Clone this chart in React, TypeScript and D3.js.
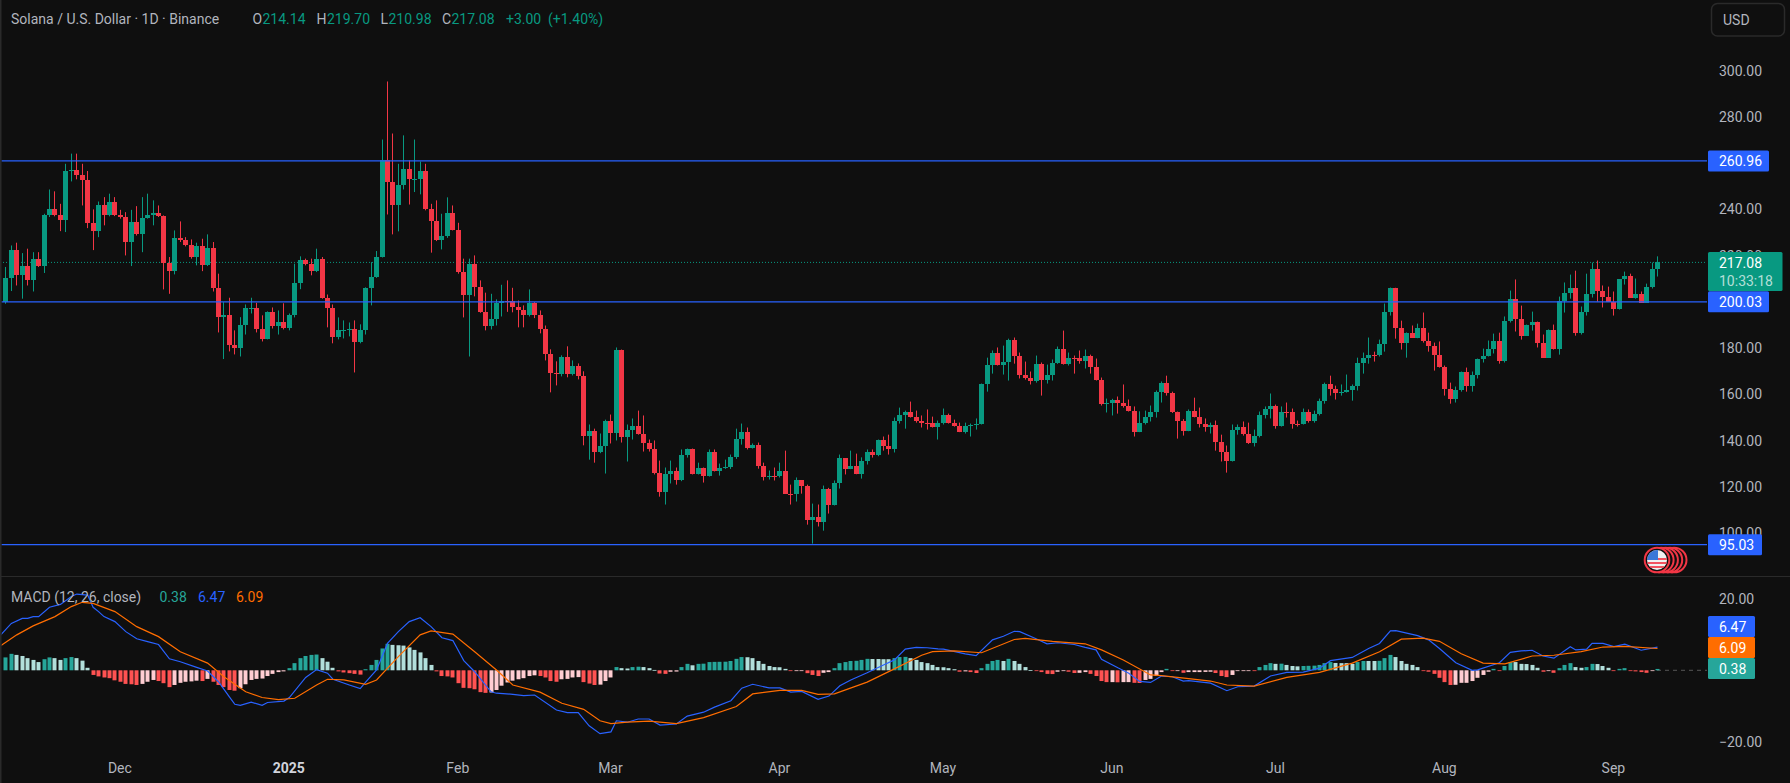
import React from 'react';
import * as d3 from 'd3';

// SOL/USD daily, Nov 10 2024 to Sep 9 2025
const firstOpen = 199.9;
const closes = [
  210.3, 222.3, 211.5, 215.5, 209.3, 218.4, 215.5, 237.4, 240.0, 237.4,
  235.2, 256.8, 256.9, 254.7, 252.5, 233.9, 230.5, 242.1, 237.4, 243.4,
  237.4, 236.5, 225.9, 234.4, 229.2, 236.1, 237.4, 238.3, 237.0, 216.9,
  213.2, 227.5, 226.6, 224.4, 219.2, 224.0, 215.8, 223.1, 205.8, 193.3,
  194.5, 181.2, 179.9, 189.8, 197.2, 197.3, 188.1, 183.8, 195.5, 189.4,
  191.1, 188.5, 194.2, 208.0, 217.9, 216.2, 213.2, 218.4, 201.9, 197.2,
  184.7, 187.7, 188.0, 188.4, 182.5, 187.7, 205.8, 210.9, 219.5, 261.5,
  251.7, 241.7, 250.4, 257.3, 253.0, 253.2, 256.4, 240.0, 234.8, 226.6,
  228.3, 238.3, 231.3, 212.8, 202.8, 216.6, 206.3, 195.7, 189.4, 192.4,
  199.4, 200.6, 200.2, 197.6, 196.3, 194.2, 199.4, 194.2, 188.1, 177.3,
  169.1, 169.0, 176.0, 168.7, 172.1, 167.8, 141.9, 144.4, 134.9, 137.9,
  148.3, 143.5, 179.0, 141.8, 144.8, 146.5, 143.1, 139.2, 136.6, 126.2,
  118.0, 125.4, 126.7, 123.2, 133.6, 136.2, 125.8, 128.4, 124.9, 135.3,
  127.1, 128.4, 128.5, 133.1, 140.9, 143.9, 137.0, 138.3, 129.2, 124.1,
  124.8, 124.6, 126.7, 117.1, 117.0, 122.8, 120.2, 105.5, 107.2, 105.0,
  118.9, 112.4, 121.5, 132.3, 127.9, 129.2, 125.8, 131.4, 134.9, 133.6,
  140.1, 137.5, 136.2, 148.7, 151.3, 152.6, 150.4, 148.7, 147.8, 147.7,
  146.1, 147.8, 150.9, 147.8, 146.5, 143.9, 146.5, 146.8, 147.3, 164.3,
  172.9, 178.1, 172.9, 174.2, 183.7, 176.4, 168.6, 166.9, 165.6, 173.3,
  166.4, 168.6, 173.8, 179.8, 173.3, 175.9, 175.8, 174.6, 176.8, 172.0,
  166.4, 156.0, 156.3, 157.8, 156.5, 154.8, 153.0, 143.9, 147.7, 150.4,
  152.6, 161.2, 165.1, 160.8, 152.2, 148.3, 144.4, 153.0, 150.4, 147.4,
  146.1, 146.7, 139.6, 134.9, 131.4, 144.8, 146.1, 143.1, 138.8, 142.2,
  150.9, 153.5, 154.8, 146.5, 152.6, 152.4, 147.4, 147.2, 152.2, 148.7,
  151.7, 157.3, 164.3, 162.5, 160.4, 161.2, 162.1, 163.8, 173.8, 175.9,
  177.2, 176.9, 181.6, 195.8, 205.8, 188.9, 182.4, 186.7, 184.6, 188.9,
  182.9, 181.1, 177.2, 172.0, 162.5, 158.2, 162.1, 169.5, 163.8, 168.2,
  175.5, 176.8, 179.8, 182.9, 174.6, 191.9, 201.4, 192.4, 185.4, 189.8,
  191.1, 182.4, 175.9, 188.0, 179.8, 200.6, 204.0, 206.2, 186.7, 195.8,
  203.2, 214.4, 204.9, 202.3, 200.1, 197.1, 209.7, 211.0, 201.9, 203.6,
  199.7, 206.6, 214.14, 217.08,
];
const highs = [
  215.1, 224.4, 225.6, 221.1, 223.0, 221.5, 221.5, 238.1, 248.6, 247.8,
  242.4, 259.7, 264.1, 264.1, 259.7, 256.6, 240.0, 243.4, 245.3, 246.8,
  245.3, 239.8, 238.8, 239.8, 241.4, 245.3, 246.8, 243.9, 241.7, 237.4,
  219.4, 230.9, 234.8, 228.0, 227.0, 225.6, 227.3, 229.2, 225.9, 212.2,
  199.9, 201.8, 187.7, 193.4, 198.9, 201.8, 199.6, 194.2, 195.9, 197.6,
  196.3, 199.4, 195.0, 216.5, 219.7, 218.7, 218.7, 223.0, 219.4, 203.2,
  198.9, 193.3, 192.0, 191.1, 192.0, 190.3, 206.3, 217.2, 222.0, 270.2,
  295.3, 272.8, 259.7, 272.0, 261.2, 270.2, 260.7, 259.7, 242.4, 243.9,
  238.1, 245.2, 241.7, 234.2, 218.7, 218.7, 220.1, 209.3, 204.0, 203.5,
  201.1, 207.4, 209.3, 206.1, 200.6, 198.5, 205.4, 199.9, 196.3, 189.8,
  179.5, 174.3, 176.9, 180.8, 174.7, 173.4, 170.0, 147.0, 145.2, 143.1,
  149.1, 151.3, 180.3, 179.4, 147.0, 149.6, 153.0, 150.9, 140.5, 140.1,
  131.4, 128.4, 131.4, 128.4, 136.2, 136.6, 136.6, 130.5, 128.4, 136.2,
  136.2, 130.1, 131.8, 134.0, 145.2, 147.4, 145.7, 138.8, 139.2, 130.5,
  127.1, 128.4, 130.5, 135.7, 121.0, 124.1, 122.8, 121.0, 112.8, 112.4,
  120.6, 119.6, 122.8, 134.0, 132.3, 135.7, 134.4, 132.8, 136.2, 136.2,
  140.5, 141.8, 142.6, 150.0, 154.3, 153.0, 156.9, 153.0, 150.9, 153.5,
  150.4, 148.7, 153.9, 151.7, 149.1, 147.8, 147.8, 147.4, 149.6, 164.7,
  175.9, 179.0, 180.3, 181.1, 184.1, 184.6, 178.1, 174.2, 169.9, 176.8,
  173.8, 172.9, 175.1, 180.7, 187.6, 178.1, 176.8, 179.0, 179.4, 177.2,
  175.5, 167.3, 158.2, 158.1, 159.1, 164.3, 157.8, 154.8, 152.7, 153.0,
  155.2, 161.7, 165.6, 168.1, 161.2, 152.6, 149.3, 153.5, 158.6, 154.3,
  149.6, 147.8, 148.7, 142.6, 137.9, 147.0, 147.0, 148.3, 147.8, 144.8,
  152.6, 154.8, 160.4, 155.6, 154.8, 156.5, 153.9, 148.7, 153.9, 153.5,
  153.0, 158.2, 165.1, 168.1, 163.8, 164.3, 168.6, 164.3, 175.9, 178.1,
  184.6, 178.5, 183.7, 199.3, 206.2, 206.1, 191.9, 186.8, 189.8, 190.6,
  195.4, 186.7, 182.4, 182.9, 172.5, 165.1, 163.4, 169.9, 171.6, 169.9,
  175.5, 179.8, 183.3, 186.3, 186.7, 193.7, 204.9, 209.7, 198.4, 190.2,
  195.8, 191.5, 185.9, 188.1, 190.2, 202.3, 208.4, 211.8, 213.5, 198.0,
  212.2, 217.0, 217.9, 207.1, 206.6, 204.5, 209.8, 213.1, 212.2, 210.1,
  204.5, 207.9, 217.0, 219.7,
];
const lows = [
  199.2, 204.7, 207.1, 201.4, 207.1, 204.5, 215.1, 212.5, 236.7, 237.0,
  230.6, 230.2, 252.1, 253.0, 241.7, 231.9, 222.4, 228.0, 233.1, 237.0,
  237.1, 236.0, 220.1, 215.5, 228.7, 221.5, 236.0, 233.1, 236.7, 205.4,
  203.5, 211.9, 225.9, 224.0, 218.7, 215.8, 213.3, 215.5, 204.5, 186.8,
  175.3, 178.6, 177.3, 176.4, 185.9, 195.0, 186.8, 182.9, 183.8, 188.5,
  185.9, 188.1, 187.7, 193.3, 205.5, 215.8, 211.5, 212.9, 201.4, 189.0,
  182.1, 183.8, 184.2, 185.1, 169.5, 182.1, 185.9, 198.5, 210.4, 219.2,
  237.8, 229.2, 230.5, 248.6, 242.1, 247.5, 246.5, 239.6, 221.3, 226.3,
  222.7, 227.7, 230.9, 212.2, 193.3, 176.4, 202.4, 195.3, 187.7, 188.1,
  189.8, 193.7, 195.7, 195.5, 189.0, 189.0, 193.7, 193.0, 186.4, 174.7,
  160.9, 163.9, 167.8, 167.4, 168.2, 166.5, 138.0, 131.8, 130.5, 134.6,
  125.8, 138.8, 140.1, 139.2, 131.0, 140.5, 142.6, 135.3, 135.3, 125.4,
  115.8, 112.4, 121.5, 121.0, 122.5, 132.7, 125.4, 125.4, 121.9, 124.5,
  126.7, 124.9, 127.8, 127.8, 132.1, 138.3, 136.2, 136.6, 127.9, 122.8,
  123.2, 122.8, 124.1, 117.0, 112.4, 113.7, 117.1, 103.7, 95.5, 102.9,
  101.1, 108.5, 112.0, 119.3, 125.4, 127.7, 125.5, 123.6, 129.7, 132.7,
  133.3, 135.7, 134.0, 134.9, 147.4, 145.2, 150.0, 147.8, 145.7, 144.8,
  145.7, 140.5, 147.0, 147.4, 146.1, 143.7, 143.1, 141.8, 144.8, 147.0,
  161.2, 169.0, 172.5, 168.6, 166.0, 173.3, 166.9, 166.4, 164.3, 165.1,
  159.5, 164.7, 166.0, 173.2, 172.9, 172.5, 169.0, 173.3, 171.2, 169.0,
  166.0, 155.2, 152.2, 150.9, 151.7, 154.3, 152.6, 141.8, 143.7, 147.0,
  148.3, 150.0, 156.5, 159.5, 152.0, 140.9, 142.2, 144.1, 150.1, 145.7,
  143.9, 143.1, 135.7, 131.0, 126.2, 131.0, 142.6, 142.2, 138.6, 137.5,
  141.4, 149.6, 149.6, 145.2, 146.1, 150.0, 145.2, 146.1, 147.0, 147.8,
  147.8, 150.9, 156.0, 159.5, 157.8, 159.5, 160.8, 157.3, 161.7, 169.0,
  173.3, 174.2, 176.4, 178.5, 194.1, 184.1, 179.4, 175.9, 184.4, 184.3,
  182.4, 178.5, 170.3, 171.6, 159.5, 156.0, 156.5, 161.2, 161.2, 161.2,
  166.9, 173.8, 176.4, 177.7, 173.3, 173.8, 191.1, 187.2, 183.7, 185.4,
  187.6, 180.3, 175.8, 175.8, 179.4, 177.2, 195.4, 201.4, 185.4, 185.9,
  194.1, 201.9, 200.1, 197.6, 200.0, 194.1, 196.7, 207.5, 201.7, 201.4,
  199.6, 199.6, 205.8, 210.98,
];
const histogram = [
  3.6, 4.6, 4.3, 4.0, 3.4, 2.9, 2.3, 3.1, 3.6, 3.4,
  2.9, 3.4, 3.7, 3.4, 2.7, 0.7, -1.3, -1.7, -2.0, -2.2,
  -2.8, -3.2, -3.8, -3.9, -4.1, -3.8, -3.2, -2.7, -3.0, -3.6,
  -4.7, -4.1, -3.5, -3.2, -3.1, -2.9, -3.0, -2.4, -3.2, -4.1,
  -4.7, -5.5, -5.7, -5.0, -3.9, -2.7, -2.4, -2.3, -1.6, -1.0,
  -0.5, -0.3, 0.6, 2.0, 3.4, 4.0, 4.3, 4.4, 3.4, 2.4,
  0.7, -0.3, -0.6, -0.8, -1.0, -1.2, 0.3, 1.5, 2.9, 6.1,
  7.4, 7.1, 7.0, 6.9, 6.4, 5.7, 5.0, 3.4, 1.5, -0.3,
  -1.6, -1.7, -2.0, -3.6, -4.9, -5.0, -5.3, -6.1, -6.3, -6.2,
  -5.5, -4.3, -3.4, -2.9, -2.5, -2.2, -1.6, -1.4, -1.6, -2.0,
  -3.0, -3.2, -2.5, -2.4, -2.0, -1.9, -3.3, -3.7, -4.1, -4.0,
  -3.0, -2.0, 0.9, 0.6, 0.5, 0.9, 1.0, 0.9, 0.6, 0.1,
  -0.9, -1.0, -0.4, -0.35, 0.9, 1.8, 1.4, 1.8, 1.85, 2.3,
  2.35, 2.37, 2.4, 2.6, 3.2, 3.7, 3.65, 3.4, 2.6, 1.8,
  1.2, 0.9, 0.85, 0.4, -0.2, -0.2, -0.1, -0.8, -1.3, -1.6,
  -0.7, -0.5, 0.6, 2.0, 2.3, 2.6, 2.65, 2.9, 3.2, 3.15,
  3.15, 3.1, 3.1, 3.4, 3.7, 3.75, 3.4, 2.9, 2.3, 2.0,
  1.5, 0.9, 0.85, 0.6, 0.3, -0.4, -0.3, -0.5, -0.75, 0.6,
  1.8, 2.6, 2.9, 2.6, 3.2, 2.6, 1.8, 0.9, 0.05, -0.1,
  -0.5, -1.0, -1.05, -0.4, -0.2, -0.4, -0.75, -0.7, -0.5, -1.0,
  -1.6, -3.0, -3.3, -3.3, -3.35, -3.3, -3.3, -3.5, -3.55, -2.7,
  -2.4, -1.6, -0.5, 0.4, -0.1, -0.1, -0.7, -0.5, -0.5, -0.5,
  -0.45, -0.4, -0.75, -1.6, -1.9, -1.3, -0.2, -0.2, -0.05, -0.15,
  0.9, 1.5, 2.0, 1.8, 1.85, 1.5, 1.2, 1.1, 1.2, 1.25,
  1.3, 1.5, 2.0, 2.3, 2.05, 2.0, 2.0, 1.8, 2.3, 2.6,
  2.6, 2.6, 2.65, 3.4, 4.3, 3.7, 2.6, 1.8, 1.5, 0.9,
  -0.2, -0.4, -1.0, -2.1, -3.3, -4.1, -4.05, -3.5, -3.5, -3.0,
  -2.1, -1.3, -0.4, 0.4, -0.1, 1.2, 2.3, 2.3, 1.8, 1.75,
  1.5, 0.7, -0.4, -0.2, -0.7, 0.6, 1.5, 2.0, 0.9, 0.7,
  0.9, 1.8, 1.75, 1.2, 0.7, -0.2, 0.4, 0.6, -0.1, -0.3,
  -0.5, -0.7, -0.1, 0.38,
];
// [bar, value] at the line's visible turning points
const macdLine: [number, number][] = [
  [-1, 9.8], [1, 13.1], [3, 14.5], [4, 14.5], [5, 15.0], [6, 15.0], [8, 17.6], [10, 18.4], [12, 20.6], [13, 21.3],
  [15, 21.0], [16, 17.6], [17, 16.4], [18, 15.0], [20, 13.6], [22, 10.8], [24, 8.8], [26, 8.0], [28, 7.2], [30, 3.2],
  [32, 2.4], [35, 0.8], [37, -0.2], [39, -3.2], [41, -7.4], [42, -9.5], [43, -9.8], [45, -8.9], [47, -9.8], [48, -9.0],
  [51, -8.6], [52, -7.6], [55, -2.0], [57, 0.2], [59, -0.8], [60, -2.5], [63, -4.1], [65, -5.1], [66, -3.3], [68, 0.1],
  [70, 7.5], [72, 10.8], [74, 13.6], [76, 14.7], [78, 12.2], [80, 9.1], [82, 8.3], [84, 2.7], [86, -0.4], [89, -6.0],
  [90, -6.4], [93, -6.7], [95, -7.1], [97, -6.9], [101, -11.1], [103, -11.8], [105, -11.8], [107, -15.5], [109, -17.7], [111, -17.2],
  [112, -14.1], [114, -14.5], [116, -13.6], [118, -13.6], [120, -15.3], [123, -15.0], [125, -12.8], [128, -11.7], [130, -10.3], [133, -8.5],
  [135, -5.0], [137, -3.9], [140, -4.9], [142, -4.9], [144, -6.1], [146, -5.9], [149, -8.1], [151, -7.2], [153, -4.3], [155, -2.7],
  [158, -0.7], [161, 1.5], [163, 2.9], [165, 5.9], [167, 6.4], [169, 6.3], [171, 6.0], [172, 5.9], [176, 4.6], [178, 4.1],
  [181, 8.5], [183, 9.5], [185, 10.9], [186, 10.8], [189, 8.8], [191, 7.4], [193, 7.7], [196, 7.2], [198, 6.4], [200, 5.7],
  [201, 3.1], [204, 0.7], [206, -0.8], [208, -3.1], [210, -3.4], [212, -1.6], [214, -1.8], [216, -3.0], [217, -2.9], [221, -3.6],
  [224, -5.7], [226, -4.6], [229, -4.4], [232, -1.6], [235, -0.6], [238, -0.5], [241, 0.6], [243, 2.7], [247, 3.6], [250, 6.1],
  [252, 7.5], [254, 11.0], [255, 11.1], [259, 9.7], [261, 8.5], [263, 6.1], [266, 2.1], [269, 0.0], [270, 0.1], [274, 2.1],
  [276, 5.0], [278, 5.4], [280, 5.6], [282, 4.0], [284, 3.4], [287, 6.6], [288, 5.7], [290, 5.9], [291, 7.5], [293, 7.5],
  [295, 6.6], [297, 7.3], [300, 5.6], [303, 6.47],
];
const signalLine: [number, number][] = [
  [-1, 6.8], [2, 9.9], [5, 12.4], [9, 15.0], [12, 17.8], [14, 19.0], [16, 18.7], [20, 16.4], [24, 12.2], [28, 9.4],
  [32, 5.2], [37, 2.0], [40, -1.8], [44, -6.0], [47, -7.6], [50, -8.2], [53, -7.8], [57, -4.1], [59, -2.5], [62, -2.7],
  [66, -3.9], [68, -2.7], [72, 3.8], [76, 9.9], [78, 11.0], [82, 10.1], [86, 5.2], [90, 0.1], [93, -4.1], [98, -6.1],
  [102, -9.2], [106, -10.9], [109, -14.1], [111, -14.9], [114, -14.5], [118, -14.2], [123, -14.9], [128, -13.2], [134, -10.1], [137, -6.6],
  [142, -5.6], [146, -5.6], [149, -6.7], [152, -6.6], [158, -3.3], [163, 0.4], [168, 4.2], [170, 5.2], [174, 5.4], [179, 4.9],
  [185, 8.6], [187, 8.9], [192, 8.1], [198, 7.4], [201, 5.7], [205, 2.9], [210, -1.3], [212, -1.5], [217, -2.3], [221, -3.0],
  [224, -4.1], [229, -4.4], [235, -2.0], [241, -0.6], [247, 2.0], [252, 5.2], [256, 8.7], [260, 9.0], [263, 8.1], [267, 4.6],
  [271, 2.0], [275, 1.8], [280, 4.0], [284, 4.2], [289, 5.2], [293, 6.5], [297, 6.7], [303, 6.09],
];
const opens = [firstOpen, ...closes.slice(0, -1)];

const priceTicks = [300, 280, 260, 240, 220, 200, 180, 160, 140, 120, 100];
const levels = [260.96, 200.03, 95.03];
const macdTicks = [20, -20];
const timeTicks = [
  { bar: 21, label: 'Dec' },
  { bar: 52, label: '2025', bold: true },
  { bar: 83, label: 'Feb' },
  { bar: 111, label: 'Mar' },
  { bar: 142, label: 'Apr' },
  { bar: 172, label: 'May' },
  { bar: 203, label: 'Jun' },
  { bar: 233, label: 'Jul' },
  { bar: 264, label: 'Aug' },
  { bar: 295, label: 'Sep' },
];
const headerParts = [
  { x: 252.5, text: 'O', muted: true }, { x: 262.5, text: '214.14' },
  { x: 316.5, text: 'H', muted: true }, { x: 327, text: '219.70' },
  { x: 380.5, text: 'L', muted: true }, { x: 388.5, text: '210.98' },
  { x: 442, text: 'C', muted: true }, { x: 451.5, text: '217.08' },
  { x: 506, text: '+3.00' }, { x: 548, text: '(+1.40%)' },
];
const eventRings = [4, 3, 2, 1, 0];

const UP = '#089981';
const DOWN = '#f23645';
const BLUE = '#2962ff';
const ORANGE = '#ff6d00';
const BG = '#0f0f0f';
const BORDER = '#2a2a2a';
const AXIS_TEXT = '#b2b5be';
const FONT = 'Roboto, "Noto Sans", sans-serif';

const W = 1790;
const H = 783;
const AXIS_X = 1707;
const SEPARATOR_Y = 576;

const x = d3.scaleLinear().domain([0, closes.length - 1]).range([5.4, 1657]);
const y = d3.scaleLinear().domain([100, 300]).range([533.2, 70.6]);
const yMacd = d3.scaleLinear().domain([-20, 20]).range([741.9, 598.7]);

const macdPath = d3.line<[number, number]>().x(d => x(d[0]) + 0.5).y(d => yMacd(d[1]));

function histColor(i: number) {
  const v = histogram[i];
  const prev = i > 0 ? histogram[i - 1] : v - 1;
  if (v >= 0) return v > prev ? '#26a69a' : '#b2dfdb';
  return v < prev ? '#ff5252' : '#ffcdd2';
}

function Badge({ cy, width, fill, text, h = 21 }: { cy: number; width: number; fill: string; text: string; h?: number }) {
  return (
    <g>
      <rect x={AXIS_X + 1} y={cy - h / 2} width={width} height={h} rx={1.5} fill={fill} />
      <text x={1719} y={cy} dy="0.36em" fill="#fff" fontSize={14}>{text}</text>
    </g>
  );
}

export default function App() {
  const lastY = y(closes[closes.length - 1]);
  const lastX = x(closes.length - 1);
  const flagY = 560;

  return (
    <>
      <style>{`html,body{margin:0;padding:0;background:${BG}}`}</style>
      <svg width={W} height={H} style={{ display: 'block' }} fontFamily={FONT}>
        <defs>
          <clipPath id="mainPane"><rect x={1.5} y={0} width={AXIS_X - 1.5} height={SEPARATOR_Y} /></clipPath>
          <clipPath id="macdPane"><rect x={1.5} y={SEPARATOR_Y + 1} width={AXIS_X - 1.5} height={H - 80} /></clipPath>
          <clipPath id="flag"><circle cx={lastX} cy={flagY} r={10} /></clipPath>
        </defs>
        <rect width={W} height={H} fill={BG} />

        {/* price pane */}
        <g clipPath="url(#mainPane)">
          <line x1={0} x2={AXIS_X} y1={lastY} y2={lastY} stroke={UP} strokeDasharray="1 2" />
          {closes.map((c, i) => {
            const o = opens[i];
            const cx = Math.round(x(i));
            const color = c >= o ? UP : DOWN;
            const top = Math.round(y(Math.max(o, c)));
            const bottom = Math.round(y(Math.min(o, c)));
            return (
              <g key={i} fill={color}>
                <rect x={cx} y={y(highs[i])} width={1} height={y(lows[i]) - y(highs[i])} />
                <rect x={cx - 2} y={top} width={5} height={Math.max(1, bottom - top)} />
              </g>
            );
          })}
          {levels.map(l => (
            <line key={l} x1={0} x2={AXIS_X} y1={y(l)} y2={y(l)} stroke={BLUE} strokeWidth={1.3} />
          ))}
        </g>

        {/* earnings-style event marker */}
        {eventRings.map(k => (
          <circle key={k} cx={lastX + k * 4.3} cy={flagY} r={12.3} fill={BG} stroke={DOWN} strokeWidth={2} />
        ))}
        <g clipPath="url(#flag)">
          <rect x={lastX - 10} y={flagY - 10} width={20} height={20} fill="#f0f0f0" />
          {d3.range(0, 4).map(k => (
            <rect key={k} x={lastX - 10} y={flagY - 2 + k * 4 - 6 + 6} width={20} height={2} fill={DOWN} opacity={0.85} />
          ))}
          <rect x={lastX - 10} y={flagY - 10} width={11} height={10} fill="#3b78d8" />
        </g>

        {/* macd pane */}
        <g clipPath="url(#macdPane)">
          <line x1={lastX} x2={AXIS_X} y1={yMacd(0)} y2={yMacd(0)} stroke="#555" strokeDasharray="4 4" />
          {histogram.map((v, i) => {
            const top = Math.min(yMacd(v), yMacd(0));
            return (
              <rect key={i} x={Math.round(x(i)) - 1.5} y={top} width={4} height={Math.max(0.8, Math.abs(yMacd(v) - yMacd(0)))} fill={histColor(i)} />
            );
          })}
          <path d={macdPath(macdLine) ?? ''} fill="none" stroke={BLUE} strokeWidth={1.2} />
          <path d={macdPath(signalLine) ?? ''} fill="none" stroke={ORANGE} strokeWidth={1.2} />
        </g>

        {/* frame */}
        <rect x={0} y={0} width={1.5} height={H} fill={BORDER} />
        <line x1={0} x2={W} y1={SEPARATOR_Y + 0.5} y2={SEPARATOR_Y + 0.5} stroke={BORDER} />

        {/* header */}
        <g fontSize={14} dominantBaseline="central">
          <text x={11} y={19} fill={AXIS_TEXT}>Solana / U.S. Dollar · 1D · Binance</text>
          {headerParts.map(p => (
            <text key={p.x} x={p.x} y={19} fill={p.muted ? AXIS_TEXT : UP}>{p.text}</text>
          ))}
        </g>
        <g fontSize={14} dominantBaseline="central">
          <text x={11} y={596.5} fill={AXIS_TEXT}>MACD (12, 26, close)</text>
          <text x={159.5} y={596.5} fill="#26a69a">0.38</text>
          <text x={198} y={596.5} fill={BLUE}>6.47</text>
          <text x={236} y={596.5} fill={ORANGE}>6.09</text>
        </g>

        {/* right axis */}
        <rect x={1711.5} y={3.5} width={73} height={32.5} rx={6} fill="none" stroke={BORDER} strokeWidth={1.5} />
        <text x={1723} y={19.5} fill={AXIS_TEXT} fontSize={14} dominantBaseline="central">USD</text>
        <g fontSize={14} fill={AXIS_TEXT}>
          {priceTicks.map(t => (
            <text key={t} x={1719} y={y(t)} dy="0.36em">{t.toFixed(2)}</text>
          ))}
          {macdTicks.map(t => (
            <text key={t} x={1719} y={yMacd(t)} dy="0.36em">{t < 0 ? `−${Math.abs(t).toFixed(2)}` : t.toFixed(2)}</text>
          ))}
        </g>
        <Badge cy={y(260.96)} width={61} fill={BLUE} text="260.96" />
        <Badge cy={y(200.03)} width={61} fill={BLUE} text="200.03" />
        <Badge cy={y(95.03)} width={54} fill={BLUE} text="95.03" />
        <g>
          <rect x={AXIS_X + 1} y={252} width={74.5} height={39} rx={1.5} fill={UP} />
          <text x={1719} y={262.7} dy="0.36em" fill="#fff" fontSize={14}>217.08</text>
          <text x={1719} y={280.7} dy="0.36em" fill="#fff" fillOpacity={0.7} fontSize={14}>10:33:18</text>
        </g>
        <Badge cy={626.5} width={47} fill={BLUE} text="6.47" />
        <Badge cy={647.5} width={47} fill={ORANGE} text="6.09" />
        <Badge cy={668.5} width={47} fill="#26a69a" text="0.38" />

        {/* time axis */}
        <g fontSize={14} textAnchor="middle" fill={AXIS_TEXT}>
          {timeTicks.map(t => (
            <text key={t.label} x={x(t.bar)} y={767.5} dy="0.36em" fontWeight={t.bold ? 700 : 400} fill={t.bold ? '#d1d4dc' : AXIS_TEXT}>{t.label}</text>
          ))}
        </g>
      </svg>
    </>
  );
}
